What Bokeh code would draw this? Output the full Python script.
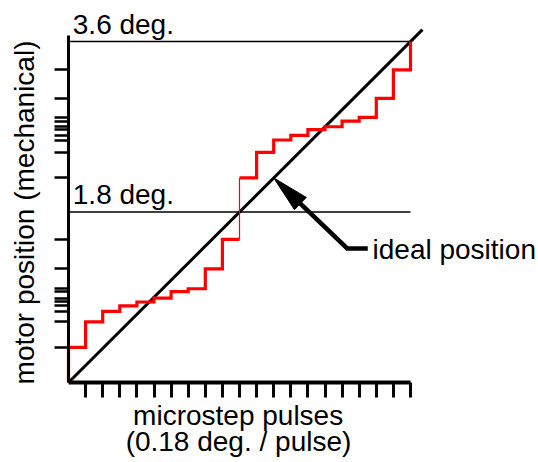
import math
from bokeh.plotting import figure
from bokeh.models import Range1d, FixedTicker, CustomJSTickFormatter, LinearAxis
from bokeh.core.properties import value
from bokeh.embed import file_html
from bokeh.resources import INLINE

# ---- data ----
pulses = list(range(1, 21))          # microstep pulse numbers (x ticks)
step_deg = 0.18                      # ideal degrees per pulse
full_deg = 3.6
half_deg = 1.8
positions = [0.37, 0.64, 0.75, 0.81, 0.85, 0.89, 0.96, 0.99, 1.20, 1.51,
             2.16, 2.43, 2.56, 2.61, 2.67, 2.70, 2.76, 2.80, 3.00, 3.30]
ref_labels = ["3.6 deg.", "1.8 deg."]
ref_values = [full_deg, half_deg]
ideal_label = "ideal position"
x_title = ["microstep pulses", "(0.18 deg. / pulse)"]
y_title = "motor position (mechanical)"

FONT = "Liberation Sans"
FS = "28px"
RED = "#ff0000"

W, H = 538, 462
OX, OY = 68, 382                     # canvas pixel of data origin
PX_X, PX_Y = 17.1, 94.72             # pixels per data unit

p = figure(width=W, height=H, output_backend="svg", toolbar_location=None,
           x_range=Range1d(-OX / PX_X, (W - OX) / PX_X),
           y_range=Range1d(-(H - OY) / PX_Y, OY / PX_Y),
           min_border_left=0, min_border_right=0, min_border_top=0,
           min_border_bottom=0, x_axis_location=None, y_axis_location=None)
p.outline_line_color = None
p.background_fill_color = "white"
p.border_fill_color = "white"
p.grid.visible = False

n = len(pulses)
blank = CustomJSTickFormatter(code="return ''")

xa = LinearAxis(ticker=FixedTicker(ticks=pulses), formatter=blank, bounds=(0, n),
                fixed_location=0)
xa.axis_line_width = 4
xa.major_tick_out = 15
xa.major_tick_in = 0
xa.major_tick_line_width = 3
xa.minor_tick_line_color = None
xa.major_label_standoff = 0
p.add_layout(xa, "below")

ya = LinearAxis(ticker=FixedTicker(ticks=positions), formatter=blank,
                bounds=(0, full_deg * 1.017), fixed_location=0)
ya.axis_line_width = 3
ya.major_tick_out = 14
ya.major_tick_in = 0
ya.major_tick_line_width = 2.5
ya.minor_tick_line_color = None
ya.major_label_standoff = 0
p.add_layout(ya, "left")

# reference lines
for v in ref_values:
    p.line([0, n], [v, v], line_color="black", line_width=1.6)
p.text(x=[0.25, 0.25], y=[v + 0.18 for v in ref_values], text=ref_labels,
       text_font=value(FONT), text_font_size=FS, text_color="black",
       text_baseline="middle", text_align="left")

# ideal line
ideal_x = [0, n * 1.035]
p.line(ideal_x, [x * step_deg for x in ideal_x], line_color="black", line_width=3)

# staircase
half = n // 2
lx, ly = [0], [0]
for i in range(half):
    lx += [i, i + 1]
    ly += [positions[i], positions[i]]
ux, uy = [], []
for i in range(half, n):
    ux += [i, i + 1]
    uy += [positions[i], positions[i]]
ux.append(n)
uy.append(full_deg)
p.line(lx, ly, line_color=RED, line_width=3.2, line_join="miter")
p.line([half, half], [positions[half - 1], positions[half]], line_color=RED, line_width=1.2)
p.line(ux, uy, line_color=RED, line_width=3.2, line_join="miter")

# arrow annotation
tip_x = 12
tip = (tip_x, tip_x * step_deg)
elbow = (16.3, 1.415)
lead_end = (17.5, 1.415)
dxp = (tip[0] - elbow[0]) * PX_X
dyp = (tip[1] - elbow[1]) * PX_Y
L = math.hypot(dxp, dyp)
ux_, uy_ = dxp / L, dyp / L
head_len, head_half = 37, 8.5
bxp, byp = -ux_ * head_len, -uy_ * head_len
nx, ny = -uy_, ux_
hx = [tip[0], tip[0] + (bxp + nx * head_half) / PX_X, tip[0] + (bxp - nx * head_half) / PX_X]
hy = [tip[1], tip[1] + (byp + ny * head_half) / PX_Y, tip[1] + (byp - ny * head_half) / PX_Y]
base = (tip[0] + bxp / PX_X, tip[1] + byp / PX_Y)
p.line([lead_end[0], elbow[0], base[0]], [lead_end[1], elbow[1], base[1]],
       line_color="black", line_width=4.5, line_join="miter")
p.patch(hx, hy, fill_color="black", line_color="black", line_width=1)
p.text(x=[17.78], y=[1.405], text=[ideal_label], text_font=value(FONT),
       text_font_size=FS, text_color="black", text_baseline="middle")

# axis titles
p.text(x=[-2.585], y=[1.795], text=[y_title], angle=math.pi / 2,
       text_align="center", text_baseline="middle",
       text_font=value(FONT), text_font_size=FS, text_color="black")
p.text(x=[9.92, 9.94], y=[-0.352, -0.625], text=x_title, text_align="center",
       text_baseline="middle", text_font=value(FONT), text_font_size=FS,
       text_color="black")

open("out.html", "w").write(file_html(p, INLINE))
